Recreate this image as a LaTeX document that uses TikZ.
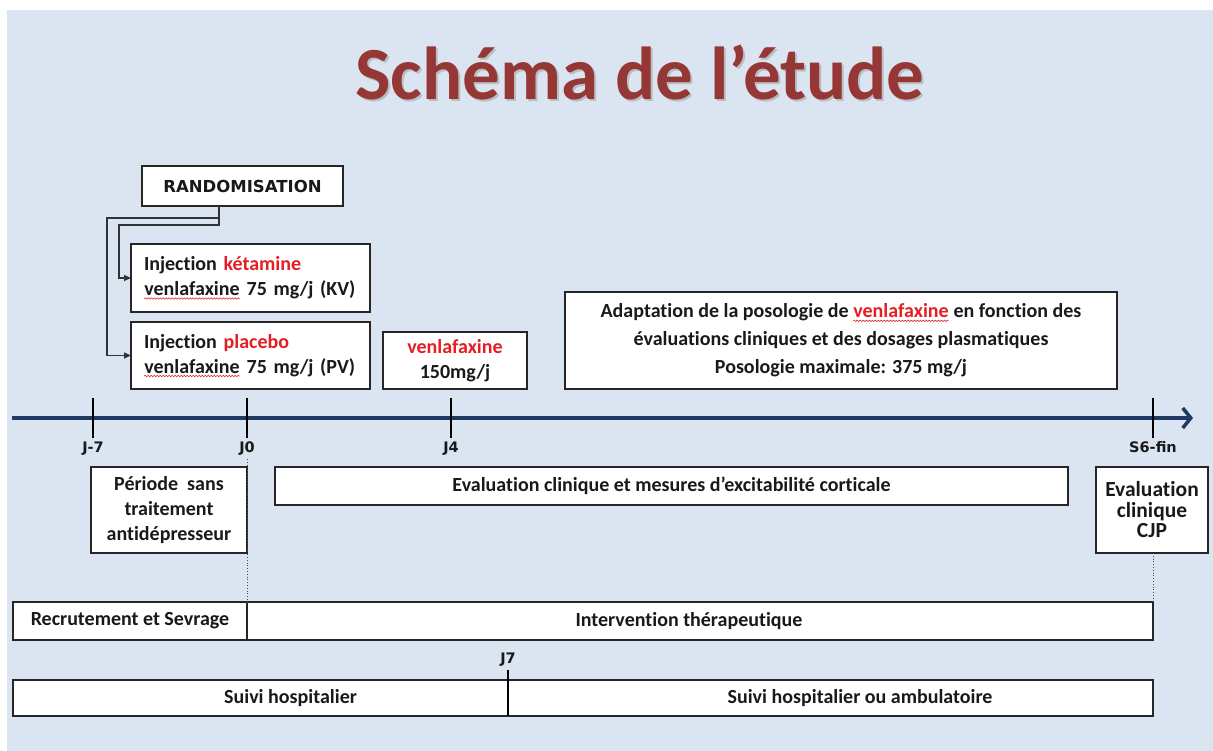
\documentclass[tikz,border=0pt]{standalone}
\usepackage{fontspec}
\setmainfont{Carlito}[Ligatures=NoCommon]
\newfontfamily\tickfont{DejaVu Sans}
\usetikzlibrary{positioning,arrows.meta,decorations.pathmorphing}

\definecolor{slide}{RGB}{219,229,241}
\definecolor{titlered}{RGB}{149,55,53}
\definecolor{keyred}{RGB}{228,30,36}
\definecolor{axisblue}{RGB}{31,56,100}
\definecolor{ink}{RGB}{25,25,25}

% word with the red wavy underline
\newcommand{\spellwave}[2][ink]{\tikz[baseline=(sw.base)]{%
    \node[inner sep=0pt, outer sep=0pt, minimum width=0pt, minimum height=0pt, text width=, draw=none, fill=none, text=#1] (sw) {#2};
    \draw[keyred, line width=0.6pt, decorate, decoration={snake, amplitude=0.7pt, segment length=3pt}]
        ([yshift=-3pt]sw.base west) -- ([yshift=-3pt]sw.base east);}}

\tikzset{
  box/.style={draw=black!85, line width=1.2pt, fill=white, inner sep=0pt, outer sep=0pt,
    align=center, text=ink, font=\fontsize{20}{25}\selectfont\bfseries},
  tickmark/.style={line width=1.3pt, black},
  ticklabel/.style={font=\fontsize{14.5}{16}\selectfont\tickfont\bfseries, text=ink, inner sep=3pt},
  link/.style={line width=1.3pt, black!80, -{Triangle[length=7pt,width=6pt]}},
  guide/.style={dotted, line width=0.8pt, black!70}
}

\begin{document}
\begin{tikzpicture}[x=1pt,y=-1pt]
    \useasboundingbox (0,0) rectangle (1213,751);
    \fill[white] (0,0) rectangle (1213,751);
    \fill[slide] (7,10) rectangle (1213,751);

    % title
    \node[font=\fontsize{75}{80}\selectfont\bfseries, text=black!40, opacity=0.5, anchor=base] (titleshadow) at (642,102) {Schéma de l’étude};
    \node[font=\fontsize{75}{80}\selectfont\bfseries, text=titlered, anchor=base] (title) at (640,100) {Schéma de l’étude};

    % randomisation and the two arms
    \node[box, font=\fontsize{16.5}{18}\selectfont\tickfont\bfseries, minimum width=201, minimum height=40] (rand) at (242.5,186) {RANDOMISATION};
    \node[box, minimum width=239, minimum height=68, text width=213, align=left] (kv) at (250.5,278)
        {Injection \textcolor{keyred}{kétamine}\\\spellwave{venlafaxine} 75 mg/j (KV)};
    \node[box, minimum width=239, minimum height=67, text width=213, align=left] (pv) [below=10pt of kv]
        {Injection \textcolor{keyred}{placebo}\\\spellwave{venlafaxine} 75 mg/j (PV)};
    \node[box, minimum width=144, minimum height=57] (dose) at (455,360.5) {\textcolor{keyred}{venlafaxine}\\150mg/j};
    \node[box, font=\fontsize{20}{28}\selectfont\bfseries, minimum width=552, minimum height=97] (adapt) at (841,340.5)
        {Adaptation de la posologie de \spellwave[keyred]{venlafaxine} en fonction des\\
         évaluations cliniques et des dosages plasmatiques\\Posologie maximale: 375 mg/j};

    \draw[link] ([xshift=-23.5pt]rand.south) |- (107,218) |- (pv.west);
    \draw[link] ([xshift=-23.5pt]rand.south) |- (119,225) |- (kv.west);

    % time axis
    \coordinate (start) at (12,418);
    \coordinate (end) at (1193,418);
    \draw[axisblue, line width=3.5pt, -{Straight Barb[length=8pt,width=20pt]}] (start) -- (end);
    \foreach \px/\lab/\nm in {93/J-7/jm7, 247/J0/j0, 451/J4/j4, 1153/S6-fin/s6}
        \draw[tickmark] (\px,398) -- (\px,438) node[ticklabel, anchor=north] (\nm) {\lab};

    % evaluations
    \node[box, minimum width=156, minimum height=86] (pause) at (169,510) {Période~~sans\\traitement\\antidépresseur};
    \node[box, minimum width=793, minimum height=38] (evalcort) at (671.5,486) {Evaluation clinique et mesures d’excitabilité corticale};
    \node[box, font=\fontsize{21.5}{20.5}\selectfont\bfseries, minimum width=112, minimum height=86] (cjp) at (1152,510) {Evaluation\\clinique\\CJP};

    % phases
    \node[box, minimum width=234, minimum height=38] (recru) at (130,621) {Recrutement et Sevrage};
    \node[box, minimum width=906, minimum height=38] (interv) [right=0pt of recru] {\hspace*{-22pt}Intervention thérapeutique};
    \node[box, minimum width=495, minimum height=36] (hosp) at (260.5,698) {\hspace*{60pt}Suivi hospitalier};
    \node[box, minimum width=645, minimum height=36] (amb) [right=0pt of hosp] {\hspace*{59pt}Suivi hospitalier ou ambulatoire};
    \draw[tickmark] (amb.south west) -- ++(0,-46) node[ticklabel, anchor=south] (j7) {J7};

    \draw[guide] (j0.south) -- (recru.north east);
    \draw[guide] (cjp.south -| interv.north east) -- (interv.north east);
\end{tikzpicture}
\end{document}
